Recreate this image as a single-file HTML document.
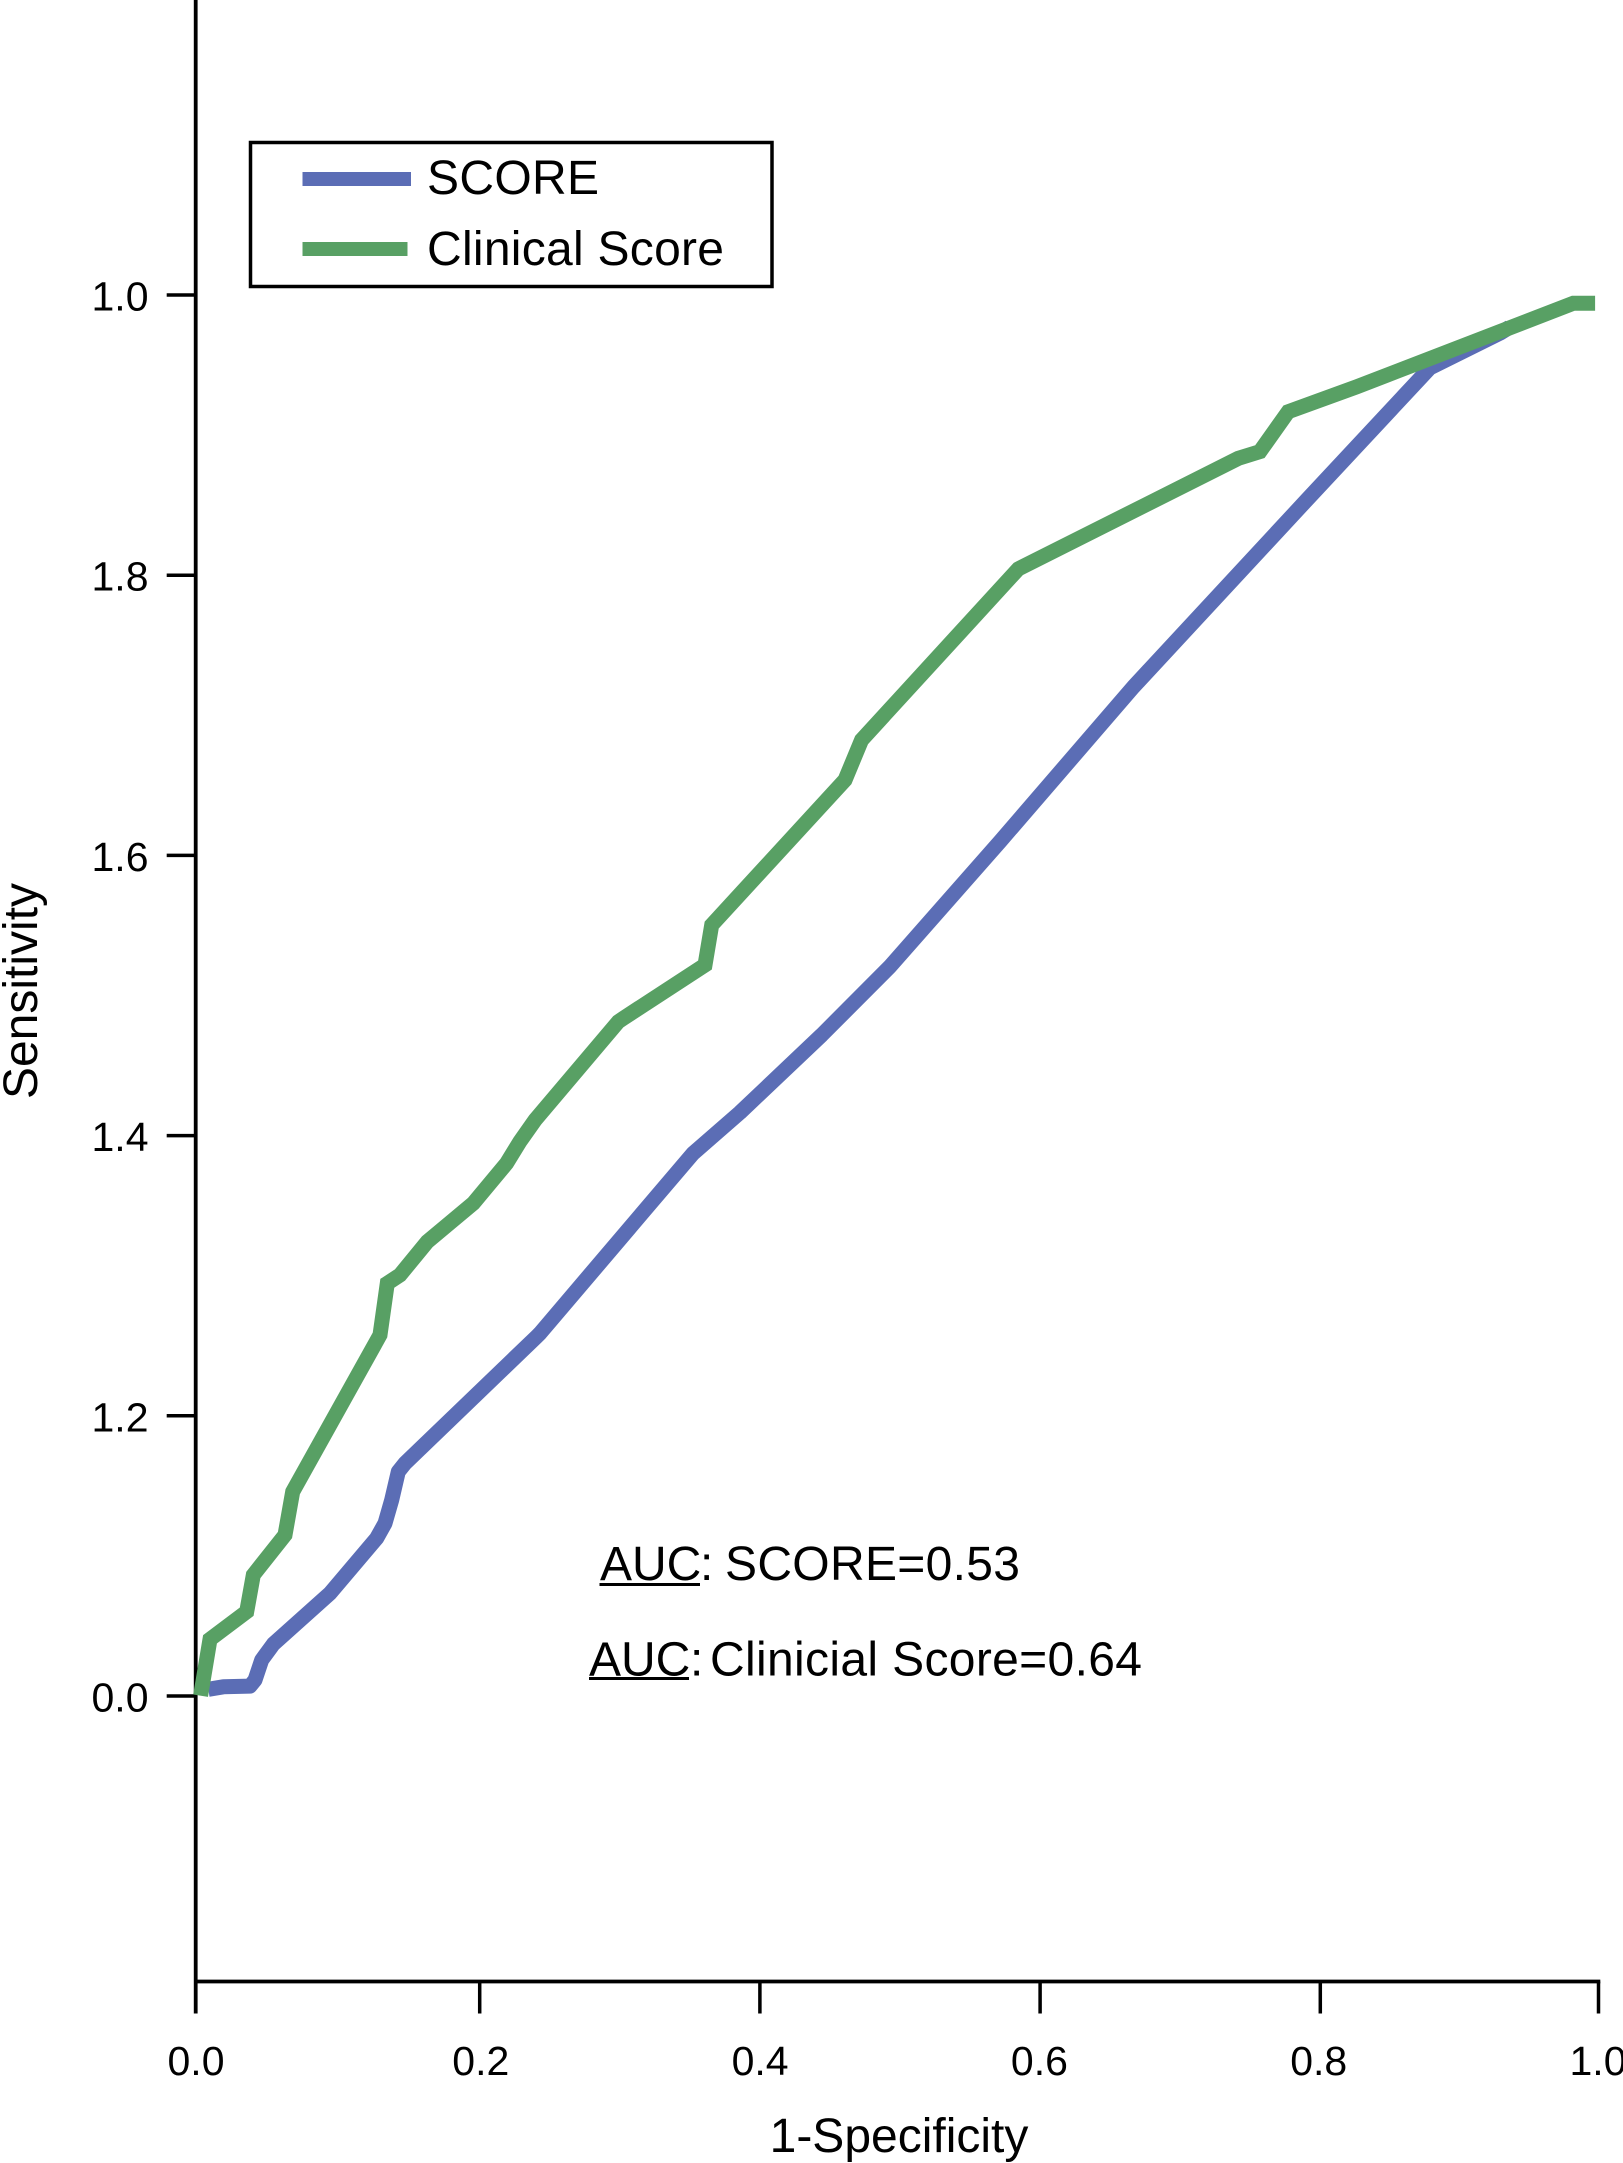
<!DOCTYPE html>
<html>
<head>
<meta charset="utf-8">
<title>ROC curves</title>
<style>
html,body{margin:0;padding:0;background:#fff;width:1623px;height:2163px;overflow:hidden}
svg{display:block}
text{font-family:"Liberation Sans",sans-serif;font-size:48px;fill:#000}
.tick-label{font-size:41px}
</style>
</head>
<body>
<svg id="chart" xmlns="http://www.w3.org/2000/svg" width="1623" height="2163" viewBox="0 0 1623 2163">
  <rect x="0" y="0" width="1623" height="2163" fill="#fff"/>
  <g id="axes"></g>
  <g id="series"></g>
  <text transform="translate(37,991) rotate(-90)" text-anchor="middle">Sensitivity</text>
  <text x="899" y="2152" text-anchor="middle">1-Specificity</text>
  <g>
    <rect x="250.5" y="142.5" width="521.5" height="144" fill="#fff" stroke="#000" stroke-width="3.5"/>
    <rect x="302.5" y="172" width="108.5" height="14" fill="#5b6db5"/>
    <text x="427" y="194" textLength="172" lengthAdjust="spacing">SCORE</text>
    <rect x="302.5" y="242" width="105" height="14" fill="#58a064"/>
    <text x="427" y="265" textLength="297" lengthAdjust="spacing">Clinical Score</text>
  </g>
  <g>
    <text x="600" y="1580">AUC</text>
    <line x1="599.5" x2="700" y1="1584.5" y2="1584.5" stroke="#000" stroke-width="3"/>
    <text x="700" y="1580">:</text>
    <text x="725" y="1580" textLength="295" lengthAdjust="spacing">SCORE=0.53</text>
  </g>
  <g>
    <text x="589" y="1675.5">AUC</text>
    <line x1="589" x2="689" y1="1678.5" y2="1678.5" stroke="#000" stroke-width="3"/>
    <text x="690" y="1675.5">:</text>
    <text x="710" y="1675.5" textLength="432" lengthAdjust="spacing">Clinicial Score=0.64</text>
  </g>
</svg>
<script>
const xTickValues = [0, 0.2, 0.4, 0.6, 0.8, 1];
const xTickLabels = ['0.0', '0.2', '0.4', '0.6', '0.8', '1.0'];
const yTickValues = [0, 0.2, 0.4, 0.6, 0.8, 1];
const yTickLabels = ['0.0', '1.2', '1.4', '1.6', '1.8', '1.0'];

const scoreX = [0.0081, 0.0188, 0.0378, 0.0414, 0.0462, 0.0545, 0.0949, 0.1283, 0.1342, 0.1390, 0.1437, 0.1485, 0.2425, 0.2448, 0.3186, 0.3542, 0.3876, 0.4459, 0.4946, 0.5732, 0.6683, 0.7921, 0.8800, 0.9300, 0.9370];
const scoreY = [0.0048, 0.0066, 0.0071, 0.0114, 0.0257, 0.0371, 0.0733, 0.1126, 0.1233, 0.1399, 0.1601, 0.1661, 0.2565, 0.2589, 0.3457, 0.3874, 0.4165, 0.4718, 0.5206, 0.6100, 0.7202, 0.8537, 0.9480, 0.9727, 0.9770];

const clinicalX = [0.0026, 0.0093, 0.0355, 0.0402, 0.0628, 0.0683, 0.1306, 0.1358, 0.1449, 0.1644, 0.1806, 0.1972, 0.2210, 0.2305, 0.2413, 0.3007, 0.3043, 0.3626, 0.3674, 0.4625, 0.4744, 0.5862, 0.7432, 0.7587, 0.7789, 0.8278, 0.9824, 0.9979];
const clinicalY = [0.0002, 0.0405, 0.0602, 0.0864, 0.1149, 0.1458, 0.2577, 0.2946, 0.3005, 0.3243, 0.3378, 0.3517, 0.3802, 0.3957, 0.4111, 0.4813, 0.4837, 0.5218, 0.5503, 0.6538, 0.6824, 0.8045, 0.8834, 0.8882, 0.9167, 0.9345, 0.9941, 0.9941];

const NS = 'http://www.w3.org/2000/svg';
function xScale(v) { return 197 + v * 1401; }
function yScale(v) { return 1696 - v * 1401; }
function xTickPos(v) { return xScale(v) + (v < 1 ? 2.5 : 0.5); }
function xLabelPos(v) { return xScale(v) + (v > 0 ? 4.5 * (1 - v) : -1); }
const axisLeft = 195.7;
const axisBottom = 1981.5;
const tickBottom = 2013.5;
const axes = document.getElementById('axes');
const seriesGroup = document.getElementById('series');

function addLine(parent, x1, y1, x2, y2, width) {
  const l = document.createElementNS(NS, 'line');
  l.setAttribute('x1', x1);
  l.setAttribute('y1', y1);
  l.setAttribute('x2', x2);
  l.setAttribute('y2', y2);
  l.setAttribute('stroke', '#000');
  l.setAttribute('stroke-width', width);
  parent.appendChild(l);
  return l;
}

const yAxisLine = addLine(axes, axisLeft, 0, axisLeft, tickBottom, 3.8);



const xAxisLine = addLine(axes, axisLeft, axisBottom, xTickPos(1) + 1.8, axisBottom, 3.8);



xTickValues.forEach(function (v, i) {
  if (v > 0) {
    const t = addLine(axes, xTickPos(v), axisBottom, xTickPos(v), tickBottom, 3.5);
    
    
  }
  const label = document.createElementNS(NS, 'text');
  
  
  label.setAttribute('class', 'tick-label');
  label.setAttribute('x', xLabelPos(v));
  label.setAttribute('y', 2075);
  label.setAttribute('text-anchor', 'middle');
  label.textContent = xTickLabels[i];
  axes.appendChild(label);
});

yTickValues.forEach(function (v, i) {
  const t = addLine(axes, axisLeft - 29, yScale(v), axisLeft, yScale(v), 3.5);
  
  
  const label = document.createElementNS(NS, 'text');
  
  
  label.setAttribute('class', 'tick-label');
  label.setAttribute('x', 148.5);
  label.setAttribute('y', yScale(v) + 15.5);
  label.setAttribute('text-anchor', 'end');
  label.textContent = yTickLabels[i];
  axes.appendChild(label);
});

function pathFrom(xs, ys) {
  return xs.map(function (x, i) {
    return (i ? 'L' : 'M') + xScale(x).toFixed(1) + ' ' + yScale(ys[i]).toFixed(1);
  }).join(' ');
}

const scorePath = document.createElementNS(NS, 'path');


scorePath.setAttribute('d', pathFrom(scoreX, scoreY));
scorePath.setAttribute('fill', 'none');
scorePath.setAttribute('stroke', '#5b6db5');
scorePath.setAttribute('stroke-width', '15');
scorePath.setAttribute('stroke-linejoin', 'round');
seriesGroup.appendChild(scorePath);

const clinicalPath = document.createElementNS(NS, 'path');


clinicalPath.setAttribute('d', pathFrom(clinicalX, clinicalY));
clinicalPath.setAttribute('fill', 'none');
clinicalPath.setAttribute('stroke', '#58a064');
clinicalPath.setAttribute('stroke-width', '15');
clinicalPath.setAttribute('stroke-linejoin', 'miter');
seriesGroup.appendChild(clinicalPath);
</script>
</body>
</html>
